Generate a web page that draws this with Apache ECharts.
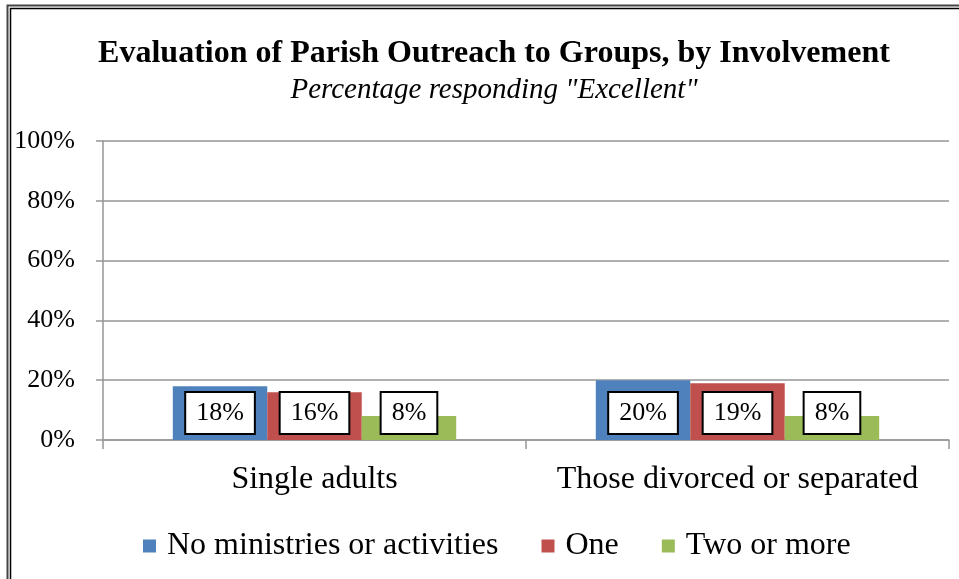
<!DOCTYPE html>
<html>
<head>
<meta charset="utf-8">
<script src="https://cdn.jsdelivr.net/npm/echarts@6/dist/echarts.min.js"></script>
<style>
  html, body { margin: 0; padding: 0; background: #fff; }
  #chart { width: 959px; height: 579px; }
</style>
</head>
<body>
<div id="chart"></div>
<script>
// chart data
var categories = ['Single adults', 'Those divorced or separated'];
var seriesNames = ['No ministries or activities', 'One', 'Two or more'];
var noneValues = [18, 20];
var oneValues = [16, 19];
var twoValues = [8, 8];
var yTicks = [0, 20, 40, 60, 80, 100];

var colors = ['#4F81BD', '#C0504D', '#9BBB59'];
var serif = '"Liberation Serif", "DejaVu Serif", serif';

var chart = echarts.init(document.getElementById('chart'));

function makeSeries(name, data, color) {
  return {
    name: name,
    type: 'bar',
    data: data,
    barGap: '0%',
    barCategoryGap: '33%',
    itemStyle: { color: color },
    label: {
      show: true,
      position: 'insideBottom',
      distance: 7,
      formatter: '{c}%',
      color: '#000',
      fontFamily: serif,
      fontSize: 26,
      lineHeight: 26,
      backgroundColor: '#fff',
      borderColor: '#000',
      borderWidth: 2,
      padding: [7, 10]
    }
  };
}

var option = {
  backgroundColor: '#fff',
  animation: false,
  title: [{
    text: 'Evaluation of Parish Outreach to Groups, by Involvement',
    left: 494,
    top: 38,
    padding: 0,
    textAlign: 'center',
    textStyle: { fontFamily: serif, fontWeight: 'bold', fontSize: 32, color: '#000' }
  }, {
    text: 'Percentage responding "Excellent"',
    left: 494,
    top: 76,
    padding: 0,
    textAlign: 'center',
    textStyle: { fontFamily: serif, fontStyle: 'italic', fontWeight: 'normal', fontSize: 29, color: '#000' }
  }],
  legend: {
    data: seriesNames,
    left: 143,
    top: 530,
    padding: 0,
    itemWidth: 13,
    itemHeight: 13,
    itemGap: 43,
    icon: 'rect',
    textStyle: { fontFamily: serif, fontSize: 32, color: '#000', padding: [0, 0, 0, 6] }
  },
  grid: { left: 103, right: 10, top: 141, bottom: 139, containLabel: false },
  xAxis: {
    type: 'category',
    data: categories,
    axisLine: { lineStyle: { color: '#969696', width: 1.5 } },
    axisTick: { show: true, length: 9, lineStyle: { color: '#969696', width: 1.5 } },
    axisLabel: { interval: 0, color: '#000', fontFamily: serif, fontSize: 32, margin: 24 }
  },
  yAxis: {
    type: 'value',
    min: yTicks[0],
    max: yTicks[yTicks.length - 1],
    interval: 20,
    axisLine: { show: true, lineStyle: { color: '#969696', width: 1.5 } },
    axisTick: { show: true, length: 7, lineStyle: { color: '#969696', width: 1.5 } },
    splitLine: { lineStyle: { color: '#969696', width: 1.5 } },
    axisLabel: { color: '#000', fontFamily: serif, fontSize: 26, margin: 28, formatter: '{value}%' }
  },
  graphic: [{
    type: 'rect',
    shape: { x: 7.5, y: 5.5, width: 1000, height: 1000 },
    style: { fill: 'none', stroke: '#444', lineWidth: 2 }
  }, {
    type: 'rect',
    shape: { x: 10.5, y: 8.5, width: 1000, height: 1000 },
    style: { fill: 'none', stroke: '#000', lineWidth: 1.5 }
  }],
  series: [
    makeSeries(seriesNames[0], noneValues, colors[0]),
    makeSeries(seriesNames[1], oneValues, colors[1]),
    makeSeries(seriesNames[2], twoValues, colors[2])
  ]
};

chart.setOption(option);
</script>
</body>
</html>
